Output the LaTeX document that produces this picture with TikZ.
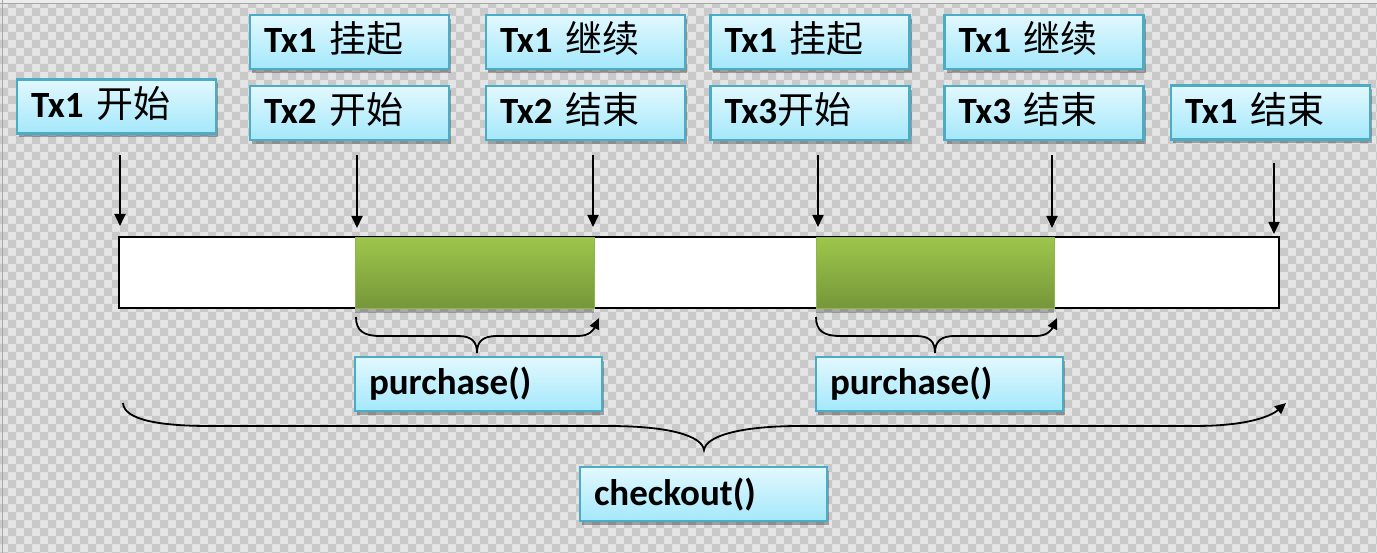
\documentclass[tikz,border=0pt]{standalone}
\usepackage{fontspec}
\setmainfont{Carlito}
\newfontfamily\cjk{Noto Sans CJK SC}
\usetikzlibrary{arrows.meta,shadows}
\definecolor{chkL}{HTML}{E5E5E5}
\definecolor{chkD}{HTML}{C9C9C9}
\definecolor{boxline}{HTML}{4BACC6}
\definecolor{boxtop}{HTML}{E2F8FE}
\definecolor{boxbot}{HTML}{A4E8FB}
\definecolor{grtop}{HTML}{9DC64B}
\definecolor{grbot}{HTML}{76963A}
\definecolor{grline}{HTML}{8DB64A}
\newcommand\txlab[2]{#1\ {\cjk\mdseries #2}}
\tikzset{
  lbox/.style={draw=boxline, line width=2.5pt, top color=boxtop, bottom color=boxbot,
    minimum height=54pt, inner xsep=14pt, inner ysep=0pt, text width=#1, align=left,
    text height=27pt, text depth=5pt,
    font=\fontsize{37}{42}\selectfont\bfseries,
    drop shadow={shadow xshift=2pt, shadow yshift=-4pt, opacity=0.3, fill=black}},
  grseg/.style={draw=grline, line width=1pt, top color=grtop, bottom color=grbot,
    minimum width=#1, minimum height=71pt, inner sep=0pt,
    drop shadow={shadow xshift=0pt, shadow yshift=-5pt, opacity=0.25, fill=black}},
  arr/.style={line width=1.8pt, -{Triangle[length=12pt,width=11pt]}},
  brace/.style={line width=1.8pt, -{Triangle[length=11pt,width=10pt]}},
}
\begin{document}
\begin{tikzpicture}[x=1pt,y=-1pt]
\useasboundingbox (0,0) rectangle (1377,553);
% checkerboard background
\fill[chkL] (0,0) rectangle (1377,553);
\fill[chkD, even odd rule]
  \foreach \i in {0,16,...,1376} {(\i,0) rectangle ++(8,553)}
  \foreach \j in {0,16,...,552} {(0,\j) rectangle ++(1377,8)};
\fill[gray!15] (0,0) rectangle (1377,3);
\draw[gray!70, line width=0.8pt] (0,3.5) -- (1377,3.5);
\draw[gray!70, line width=0.8pt] (2,0) -- (2,553);

% labels
\node[lbox=171] (s1)  at (116.5,106.5) {\txlab{Tx1}{开始}};
\node[lbox=171] (p1)  at (349.5,42)    {\txlab{Tx1}{挂起}};
\node[lbox=171] (s2)  at (349.5,113)   {\txlab{Tx2}{开始}};
\node[lbox=171] (r1)  at (585.5,42)    {\txlab{Tx1}{继续}};
\node[lbox=171] (e2)  at (585.5,113)   {\txlab{Tx2}{结束}};
\node[lbox=171] (p2)  at (810,42)      {\txlab{Tx1}{挂起}};
\node[lbox=171] (s3)  at (810,113)     {Tx3{\cjk\mdseries 开始}};
\node[lbox=171] (r2)  at (1044,42)     {\txlab{Tx1}{继续}};
\node[lbox=171] (e3)  at (1044,113)    {\txlab{Tx3}{结束}};
\node[lbox=171] (e1)  at (1270.5,112.5){\txlab{Tx1}{结束}};

% bar
\node[draw, line width=2pt, fill=white, minimum width=1160pt, minimum height=71pt, inner sep=0pt] (bar) at (699,273) {};
\node[grseg=239pt] (g1) at (474.5,273) {};
\node[grseg=238pt] (g2) at (935,273) {};

% arrows
\coordinate (a1t) at (120,155);  \coordinate (a1b) at (120,226);
\coordinate (a2t) at (357,155);  \coordinate (a2b) at (357,228);
\coordinate (a3t) at (593,155);  \coordinate (a3b) at (593,227);
\coordinate (a4t) at (818,155);  \coordinate (a4b) at (818,227);
\coordinate (a5t) at (1052,155); \coordinate (a5b) at (1052,228);
\coordinate (a6t) at (1274,163); \coordinate (a6b) at (1274,234);
\foreach \k in {1,...,6} {\draw[arr] (a\k t) -- (a\k b);}

% small braces
\draw[brace] (356,317) .. controls (356,331) and (364,336) .. (380,336)
  -- (458,336) .. controls (472,336) and (477,342) .. (477,353)
  .. controls (477,342) and (482,336) .. (497,336)
  -- (578,336) .. controls (590,336) and (594,329) .. (599,318);
\draw[brace] (816,317) .. controls (816,331) and (824,336) .. (840,336)
  -- (916,336) .. controls (930,336) and (935,342) .. (935,353)
  .. controls (935,342) and (940,336) .. (955,336)
  -- (1036,336) .. controls (1048,336) and (1052,329) .. (1057,318);

% big brace
\draw[brace] (123,403) .. controls (124,420) and (160,426) .. (210,426)
  -- (608,426) .. controls (670,426) and (702,436) .. (704,450)
  .. controls (706,436) and (740,426) .. (800,426)
  -- (1195,426) .. controls (1245,426) and (1270,417) .. (1286,403);

% function labels
\node[lbox=219] (f1) at (478.5,384) {purchase()};
\node[lbox=219] (f2) at (939.5,384) {purchase()};
\node[lbox=219] (f3) at (703.5,494) {checkout()};
\end{tikzpicture}
\end{document}
